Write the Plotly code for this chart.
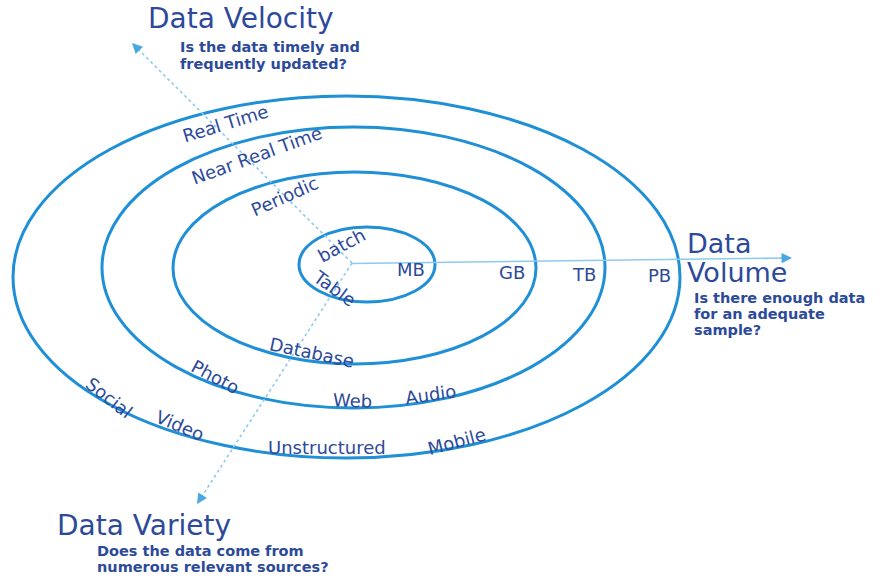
import plotly.graph_objects as go

# ---------------- data ----------------
velocity_levels = ["batch", "Periodic", "Near Real Time", "Real Time"]
volume_levels = ["MB", "GB", "TB", "PB"]
variety_levels = ["Table", "Database", "Photo", "Web", "Audio",
                  "Social", "Video", "Unstructured", "Mobile"]

axis_titles = ["Data Velocity", "Data Volume", "Data Variety"]
velocity_question = ["Is the data timely and", "frequently updated?"]
volume_question = ["Is there enough data", "for an adequate", "sample?"]
variety_question = ["Does the data come from", "numerous relevant sources?"]

# ---------------- layout / style ----------------
W, H = 883, 577
RING = "#1f8fd6"
AXIS = "#8ccbef"
TXT = "#2d4a9a"
FONT = "DejaVu Sans"

# ring boxes (x0, x1, y0, y1) in pixel-like coordinates
ring_boxes = [(299, 435, 227, 302), (173, 536, 172, 364),
              (102, 605, 127, 408), (13, 680, 96, 458)]
origin = (352, 263)

fig = go.Figure()
fig.add_trace(go.Scatter(x=[origin[0]], y=[origin[1]], mode="markers",
                         marker=dict(size=1, color="rgba(0,0,0,0)"),
                         hoverinfo="skip", showlegend=False))

shapes = []
for (x0, x1, y0, y1) in ring_boxes:
    shapes.append(dict(type="circle", xref="x", yref="y", x0=x0, x1=x1,
                       y0=y0, y1=y1, line=dict(color=RING, width=3)))

# axis lines
vel_tip = (132, 43)
vol_tip = (792, 258)
var_tip = (197, 504)
shapes.append(dict(type="line", xref="x", yref="y", x0=origin[0], y0=origin[1],
                   x1=vel_tip[0], y1=vel_tip[1],
                   line=dict(color=AXIS, width=1.6, dash="dot")))
shapes.append(dict(type="line", xref="x", yref="y", x0=origin[0], y0=origin[1] + 0.5,
                   x1=vol_tip[0] - 4, y1=vol_tip[1],
                   line=dict(color=AXIS, width=1.6)))
shapes.append(dict(type="line", xref="x", yref="y", x0=origin[0], y0=origin[1],
                   x1=var_tip[0], y1=var_tip[1],
                   line=dict(color=AXIS, width=1.6, dash="dot")))

annotations = []


def arrow_head(tip, frm):
    dx, dy = frm[0] - tip[0], frm[1] - tip[1]
    n = (dx * dx + dy * dy) ** 0.5
    annotations.append(dict(x=tip[0], y=tip[1], xref="x", yref="y",
                            ax=tip[0] + dx / n * 12, ay=tip[1] + dy / n * 12,
                            axref="x", ayref="y", text="", showarrow=True,
                            arrowhead=2, arrowsize=1.3, arrowwidth=1.6,
                            arrowcolor="#4aa8e0"))


arrow_head(vel_tip, origin)
arrow_head(vol_tip, origin)
arrow_head(var_tip, origin)


def label(text, x, y, size=18, angle=0, anchor="center", bold=False):
    annotations.append(dict(x=x, y=y, xref="x", yref="y", text=text,
                            showarrow=False, textangle=angle,
                            xanchor=anchor, yanchor="middle",
                            font=dict(family=FONT, size=size, color=TXT,
                                      weight="bold" if bold else "normal")))


# velocity ring labels
vel_pos = [(341, 245, -28), (284, 196, -24), (256, 155, -20), (225, 123, -17)]
for t, (x, y, a) in zip(velocity_levels, vel_pos):
    label(t, x, y, angle=a)

# volume ring labels
vol_pos = [(411, 269), (512, 272), (584, 274), (659, 275)]
for t, (x, y) in zip(volume_levels, vol_pos):
    label(t, x, y)

# variety labels
var_pos = [(335, 288, 36), (312, 352, 12), (215, 376, 28), (352, 400, 2),
           (430, 394, -8), (109, 397, 38), (180, 425, 23), (327, 447, 0),
           (456, 441, -15)]
for t, (x, y, a) in zip(variety_levels, var_pos):
    label(t, x, y, angle=a)

# axis titles
label(axis_titles[0], 146, 18, size=28, anchor="left")
vol_words = axis_titles[1].split(" ")
label(vol_words[0], 685, 243, size=27, anchor="left")
label(vol_words[1], 685, 272, size=27, anchor="left")
label(axis_titles[2], 55, 525, size=28, anchor="left")

# questions
for i, t in enumerate(velocity_question):
    label(t, 178, 47 + i * 16.5, size=14.5, anchor="left", bold=True)
for i, t in enumerate(volume_question):
    label(t, 692, 298 + i * 16, size=14.5, anchor="left", bold=True)
for i, t in enumerate(variety_question):
    label(t, 95, 551 + i * 16, size=14.5, anchor="left", bold=True)

fig.update_layout(
    width=W, height=H,
    margin=dict(l=0, r=0, t=0, b=0),
    paper_bgcolor="white", plot_bgcolor="white",
    xaxis=dict(range=[0, W], visible=False, fixedrange=True),
    yaxis=dict(range=[H, 0], visible=False, fixedrange=True),
    shapes=shapes, annotations=annotations, showlegend=False,
)

fig.write_html("out.html", config={"displayModeBar": False},
               post_script="document.body.style.margin='0';document.body.style.overflow='hidden';")
